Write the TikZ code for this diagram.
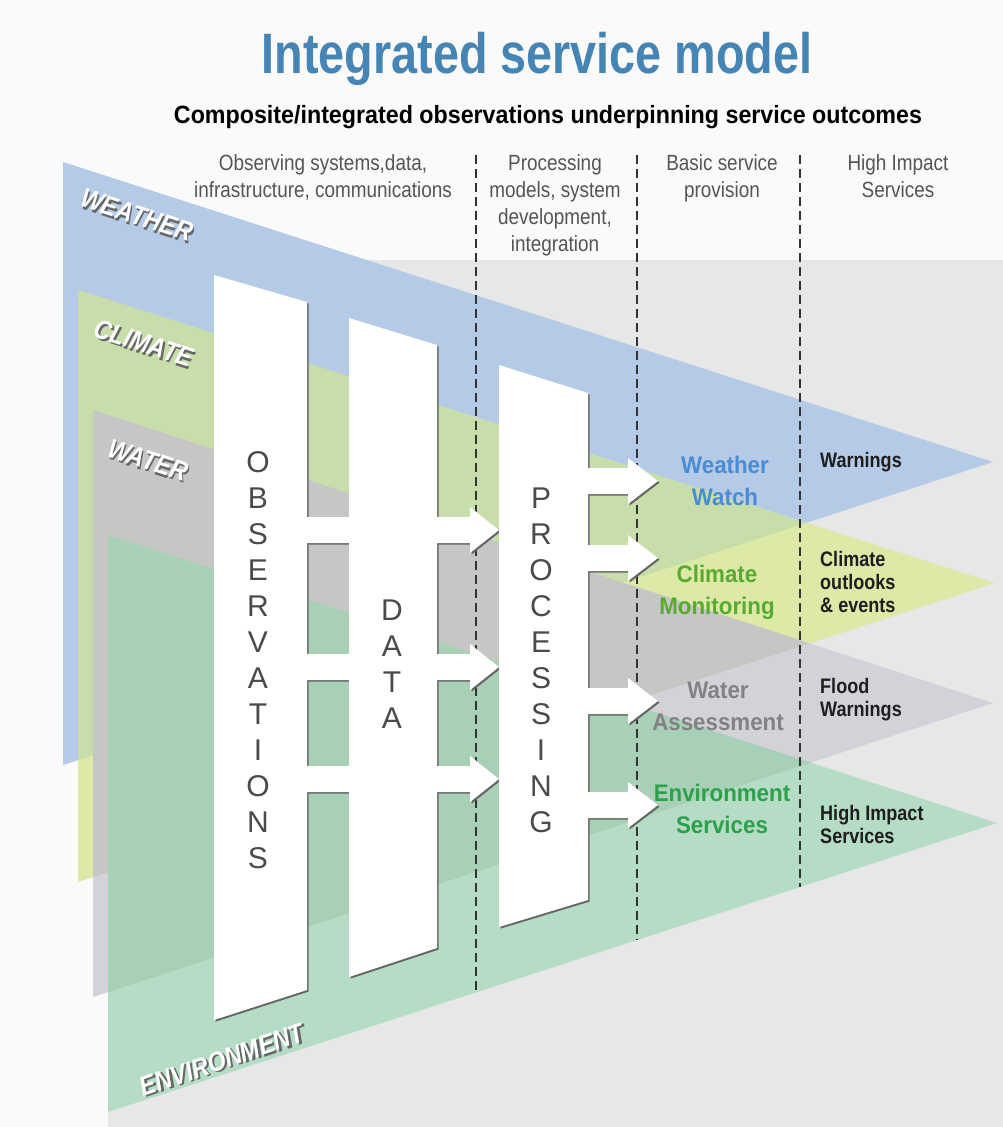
\documentclass[tikz,border=0pt]{standalone}
\usepackage{fontspec}
\setmainfont{Liberation Sans}
\newfontfamily\condfont[FakeStretch=0.86]{Liberation Sans}
\newfontfamily\widefont[FakeStretch=0.93]{Liberation Sans}
\newfontfamily\titlefont[FakeStretch=0.82]{Liberation Sans}

\definecolor{bgwhite}{HTML}{FAFAFA}
\definecolor{bggray}{HTML}{E7E7E7}
\definecolor{weatherblue}{HTML}{B4CAE6}
\definecolor{climatelight}{HTML}{DDE9A6}
\definecolor{climatedark}{HTML}{C8DEAA}
\definecolor{waterlight}{HTML}{D4D2D8}
\definecolor{waterdark}{HTML}{C6C7C5}
\definecolor{envlight}{HTML}{B5DCC4}
\definecolor{envdark}{HTML}{A7D0B7}
\definecolor{titleblue}{HTML}{4485B6}
\definecolor{watchblue}{HTML}{4A8CD2}
\definecolor{monitorgreen}{HTML}{5AAA32}
\definecolor{assessgray}{HTML}{828286}
\definecolor{servicegreen}{HTML}{2CA04A}
\definecolor{shadowgray}{HTML}{666666}
\definecolor{headgray}{HTML}{555555}
\definecolor{lettergray}{HTML}{4A4A4A}
\definecolor{outcomeblack}{HTML}{1E1E1E}

\begin{document}
\begin{tikzpicture}[x=1pt,y=-1pt,
  header/.style={align=center, anchor=north, inner sep=0pt, text=headgray, font=\condfont\fontsize{22}{27}\selectfont},
  stack/.style={align=center, inner sep=0pt, text=lettergray, font=\fontsize{30}{36}\selectfont},
  service/.style={align=center, inner sep=0pt, font=\widefont\bfseries\fontsize{24}{32}\selectfont},
  outcome/.style={align=left, anchor=west, inner sep=0pt, text=outcomeblack, font=\condfont\bfseries\fontsize{21}{23}\selectfont},
  layer/.style={inner sep=0pt, text=white, font=\condfont\bfseries\itshape\fontsize{27}{27}\selectfont},
  layershade/.style={layer, text=shadowgray, xshift=2pt, yshift=-2pt},
  divider/.style={draw=black!80, line width=2.6pt, dash pattern=on 9pt off 5pt}]
\useasboundingbox (0,0) rectangle (1003,1127);
\fill[bgwhite] (0,0) rectangle (1003,1127);
\fill[bggray] (108,260) rectangle (1003,1127);

\coordinate (weathertop) at (63,162);
\coordinate (weathertip) at (993,462);
\coordinate (weatherbot) at (63,765);
\coordinate (climatetop) at (78,290);
\coordinate (climatetip) at (995,583);
\coordinate (climatebot) at (78,882);
\coordinate (watertop) at (93,410);
\coordinate (watertip) at (993,703);
\coordinate (waterbot) at (93,997);
\coordinate (envtop) at (108,535);
\coordinate (envtip) at (997,823);
\coordinate (envbot) at (108,1112);

\fill[weatherblue] (weathertop) -- (weathertip) -- (weatherbot) -- cycle;
\fill[climatelight] (climatetop) -- (climatetip) -- (climatebot) -- cycle;
\begin{scope}
  \clip (weathertop) -- (weathertip) -- (weatherbot) -- cycle;
  \fill[climatedark] (climatetop) -- (climatetip) -- (climatebot) -- cycle;
\end{scope}
\fill[waterlight] (watertop) -- (watertip) -- (waterbot) -- cycle;
\begin{scope}
  \clip (climatetop) -- (climatetip) -- (climatebot) -- cycle;
  \fill[waterdark] (watertop) -- (watertip) -- (waterbot) -- cycle;
\end{scope}
\fill[envlight] (envtop) -- (envtip) -- (envbot) -- cycle;
\begin{scope}
  \clip (watertop) -- (watertip) -- (waterbot) -- cycle;
  \fill[envdark] (envtop) -- (envtip) -- (envbot) -- cycle;
\end{scope}

\draw[divider] (476,155) -- (476,992);
\draw[divider] (637,155) -- (637,940);
\draw[divider] (800,155) -- (800,887);

\foreach \tone/\off in {shadowgray/1.6, white/0} {
  \begin{scope}[shift={(\off,\off)}]
    \fill[\tone] (214,275) -- (307,302) -- (307,990) -- (214,1020) -- cycle;
    \fill[\tone] (349,318) -- (437,345) -- (437,948) -- (349,977) -- cycle;
    \fill[\tone] (499,365) -- (588,393) -- (588,900) -- (499,927) -- cycle;
    \foreach \y in {530,667,779}
      \fill[\tone] (300,\y-13) -- (470,\y-13) -- (470,\y-23) -- (499,\y) -- (470,\y+23) -- (470,\y+13) -- (300,\y+13) -- cycle;
    \foreach \y in {481,558,701,805}
      \fill[\tone] (580,\y-13) -- (628,\y-13) -- (628,\y-23) -- (658,\y) -- (628,\y+23) -- (628,\y+13) -- (580,\y+13) -- cycle;
  \end{scope}
}

\node[stack] (observations) at (258,660) {O\\B\\S\\E\\R\\V\\A\\T\\I\\O\\N\\S};
\node[stack] (data) at (392,664) {D\\A\\T\\A};
\node[stack] (processing) at (541,660) {P\\R\\O\\C\\E\\S\\S\\I\\N\\G};

\node[service, text=watchblue] (weatherwatch) at (725,481) {Weather\\Watch};
\node[service, text=monitorgreen] (climatemonitoring) at (717,592) {Climate\\Monitoring};
\node[service, text=assessgray] (waterassessment) at (718,706) {Water\\Assessment};
\node[service, text=servicegreen] (envservices) at (722,809) {Environment\\Services};

\node[outcome] (warnings) at (820,462) {Warnings};
\node[outcome] (outlooks) at (820,582) {Climate\\outlooks\\\& events};
\node[outcome] (flood) at (820,700) {Flood\\Warnings};
\node[outcome] (highimpact) at (820,824) {High Impact\\Services};

\foreach \name/\x/\y/\ang/\word in {weatherlabel/137/215/-18/WEATHER, climatelabel/144/343/-18/CLIMATE, waterlabel/148/460/-18/WATER, envlabel/222/1060/19/ENVIRONMENT} {
  \node[rotate=\ang, layershade] (\name-shade) at (\x,\y) {\word};
  \node[rotate=\ang, layer] (\name) at (\x,\y) {\word};
}

\node[header] (observinghead) at (323,154) {Observing systems,data,\\infrastructure, communications};
\node[header] (processinghead) at (555,154) {Processing\\models, system\\development,\\integration};
\node[header] (basichead) at (722,154) {Basic service\\provision};
\node[header] (impacthead) at (898,154) {High Impact\\Services};

\node[font=\titlefont\bfseries\fontsize{57}{57}\selectfont, text=titleblue, anchor=base] (title) at (537,73) {Integrated service model};
\node[font=\widefont\bfseries\fontsize{25}{25}\selectfont, anchor=base] (subtitle) at (548,123) {Composite/integrated observations underpinning service outcomes};
\end{tikzpicture}
\end{document}
